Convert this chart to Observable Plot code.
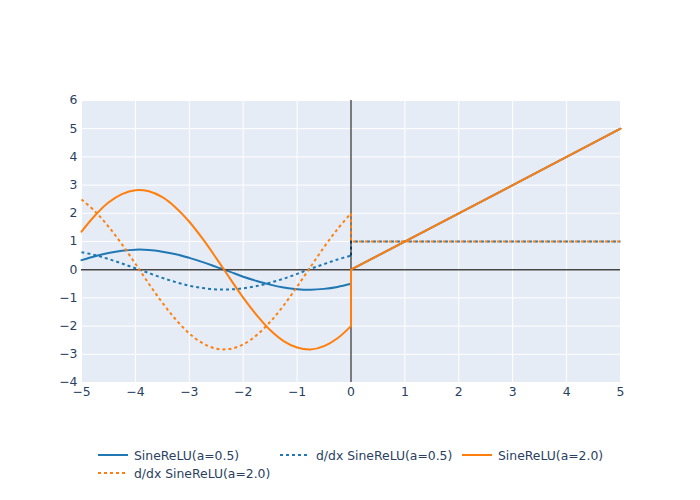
<!DOCTYPE html>
<html><head><meta charset="utf-8">
<script src="https://cdn.jsdelivr.net/npm/d3@7"></script>
<script src="https://cdn.jsdelivr.net/npm/@observablehq/plot@0.6"></script>
<style>
body{margin:0;background:#fff;font-family:"DejaVu Sans",Verdana,sans-serif;}
#wrap{position:relative;width:700px;height:500px;overflow:hidden;}
.leg{position:absolute;height:16px;font-size:12.4px;color:#2a3f5f;display:flex;align-items:center;white-space:nowrap;}
.leg svg{margin-right:6px;}
</style></head><body><div id="wrap"><div id="chart"></div></div>
<script>
// sample grid on the negative side (x <= 0)
const xNeg = [-5,-4.75,-4.5,-4.25,-4,-3.75,-3.5,-3.25,-3,-2.75,-2.5,-2.25,-2,-1.75,-1.5,-1.25,-1,-0.75,-0.5,-0.25,0];
const sineReluA05Neg = [0.34,0.48,0.59,0.67,0.71,0.70,0.64,0.55,0.42,0.27,0.10,-0.07,-0.25,-0.40,-0.53,-0.63,-0.69,-0.71,-0.68,-0.61,-0.50];
const dSineReluA05Neg = [0.62,0.52,0.38,0.22,0.05,-0.12,-0.29,-0.44,-0.57,-0.65,-0.70,-0.70,-0.66,-0.58,-0.46,-0.32,-0.15,0.03,0.20,0.36,0.50];
const sineReluA20Neg = [1.35,1.92,2.38,2.68,2.82,2.78,2.57,2.20,1.70,1.09,0.41,-0.30,-0.99,-1.61,-2.14,-2.53,-2.76,-2.83,-2.71,-2.43,-2.00];
const dSineReluA20Neg = [2.49,2.07,1.53,0.90,0.21,-0.50,-1.17,-1.77,-2.26,-2.61,-2.80,-2.81,-2.65,-2.32,-1.85,-1.27,-0.60,0.10,0.80,1.44,2.00];
// positive side (x > 0)
const xPos = [0,5];
const sineReluPos = [0,5];
const dSineReluPos = [1,1];

const seriesNames = ["SineReLU(a=0.5)","d/dx SineReLU(a=0.5)","SineReLU(a=2.0)","d/dx SineReLU(a=2.0)"];
const seriesColors = ["#1f77b4","#1f77b4","#ff7f0e","#ff7f0e"];
const seriesDotted = [false,true,false,true];

const xTicks = [-5,-4,-3,-2,-1,0,1,2,3,4,5];
const yTicks = [-4,-3,-2,-1,0,1,2,3,4,5,6];

const negValues = [sineReluA05Neg,dSineReluA05Neg,sineReluA20Neg,dSineReluA20Neg];
const posValues = [sineReluPos,dSineReluPos,sineReluPos,dSineReluPos];

const fmt = d => d < 0 ? "\u2212" + Math.abs(d) : String(d);

function lineMarks(i){
  const neg = xNeg.map((x,k)=>({x, y: negValues[i][k]}));
  const last = neg[neg.length-1];
  const pos = [last].concat(xPos.map((x,k)=>({x, y: posValues[i][k]})));
  const opts = {x:"x", y:"y", stroke: seriesColors[i], strokeWidth: 2,
    strokeDasharray: seriesDotted[i] ? "3,3" : null, strokeLinejoin:"round",
    strokeLinecap: seriesDotted[i] ? "butt" : "round"};
  return [Plot.line(neg, {...opts, curve: "catmull-rom"}), Plot.line(pos, opts)];
}

const chart = Plot.plot({
  width: 700, height: 430,
  marginLeft: 81, marginRight: 80, marginTop: 100, marginBottom: 48,
  style: {fontFamily: '"DejaVu Sans", Verdana, sans-serif', fontSize: "12px", color: "#2a3f5f", background: "white"},
  x: {domain: [-5,5], label: null},
  y: {domain: [-4,6], label: null},
  marks: [
    Plot.frame({fill: "#e5ecf6", stroke: null}),
    Plot.gridX(xTicks, {stroke: "white", strokeOpacity: 1, strokeWidth: 1}),
    Plot.gridY(yTicks, {stroke: "white", strokeOpacity: 1, strokeWidth: 1}),
    Plot.axisX(xTicks, {tickSize: 0, tickPadding: 5, tickFormat: fmt, fontSize: 12.4, fill: "#2a3f5f"}),
    Plot.axisY(yTicks, {tickSize: 0, tickPadding: 4, tickFormat: fmt, fontSize: 12.4, fill: "#2a3f5f"}),
    ...lineMarks(0), ...lineMarks(1),
    Plot.ruleY([0], {stroke: "#444", strokeWidth: 1.5}),
    Plot.ruleX([0], {stroke: "#000", strokeOpacity: 0.5, strokeWidth: 2}),
    ...lineMarks(2), ...lineMarks(3)
  ]
});
document.getElementById("chart").appendChild(chart);

// legend below the plot
const legendPos = [[98,447],[280,447],[462,447],[98,465]];
const wrap = document.getElementById("wrap");
seriesNames.forEach((name,i)=>{
  const d = document.createElement("div");
  d.className = "leg";
  d.style.left = legendPos[i][0] + "px";
  d.style.top = legendPos[i][1] + "px";
  const dash = seriesDotted[i] ? ' stroke-dasharray="3,3"' : '';
  d.innerHTML = `<svg width="30" height="16"><line x1="0" x2="30" y1="8" y2="8" stroke="${seriesColors[i]}" stroke-width="2"${dash}/></svg><span>${name}</span>`;
  wrap.appendChild(d);
});
</script></body></html>
